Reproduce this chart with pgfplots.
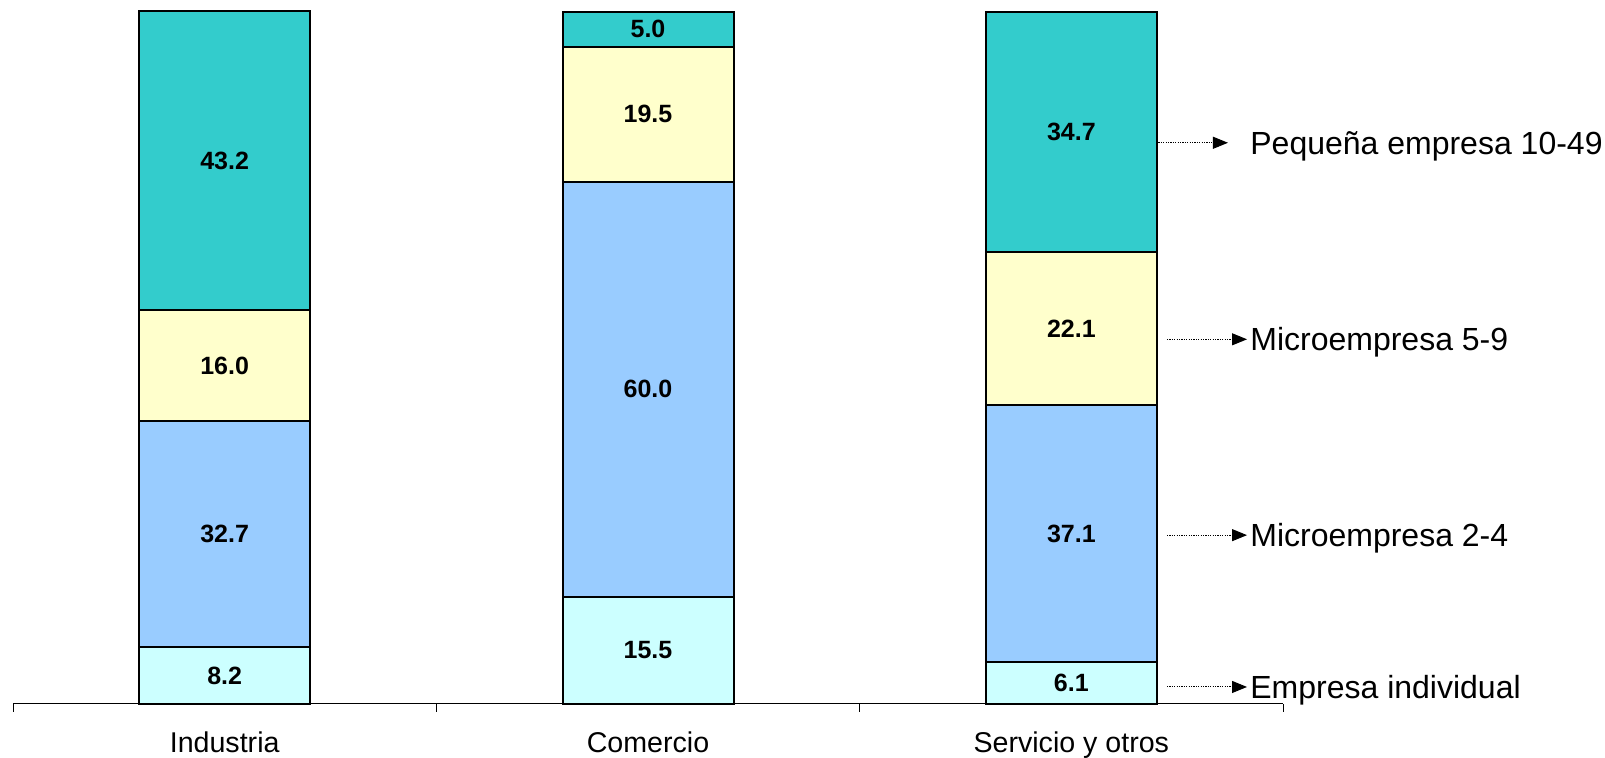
\documentclass[border=0pt]{standalone}
\usepackage{pgfplots}
\pgfplotsset{compat=1.18}
\usepackage{pgfplotstable}
\usepackage{fontspec}
\setmainfont{Liberation Sans}
\usetikzlibrary{arrows.meta}
\definecolor{cInd}{HTML}{CCFFFF}
\definecolor{cMa}{HTML}{99CCFF}
\definecolor{cMb}{HTML}{FFFFCC}
\definecolor{cPe}{HTML}{33CCCC}

\pgfplotstableread{
x v lbl
0.5 8.2 8.2
1.5 15.5 15.5
2.5 6.1 6.1
}\dataInd
\pgfplotstableread{
x v lbl
0.5 32.7 32.7
1.5 60.0 60.0
2.5 37.1 37.1
}\dataMa
\pgfplotstableread{
x v lbl
0.5 16.0 16.0
1.5 19.5 19.5
2.5 22.1 22.1
}\dataMb
\pgfplotstableread{
x v lbl
0.5 43.2 43.2
1.5 5.0 5.0
2.5 34.7 34.7
}\dataPe

\pgfplotsset{segstyle/.style={draw=black, line width=1pt,
  nodes near coords,
  point meta=explicit symbolic,
  every node near coord/.style={anchor=center, font=\bfseries\fontsize{12.5}{15}\selectfont, text=black}}}

\begin{document}
\begin{tikzpicture}
\useasboundingbox (-6.5pt,-27pt) rectangle (796pt,352pt);
\begin{axis}[
  at={(0,0)}, anchor=south west,
  scale only axis, width=635pt, height=346pt,
  xmin=0, xmax=3, ymin=0, ymax=100,
  clip=false,
  axis x line*=bottom, axis y line=none,
  axis line style={black, line width=0.5pt},
  xtick={0.5,1.5,2.5},
  xticklabels={Industria,Comercio,Servicio y otros},
  major tick length=0pt,
  minor xtick={0,1,2,3},
  minor tick length=4pt,
  tick align=outside,
  minor tick style={black, line width=0.5pt},
  xticklabel style={anchor=base, yshift=-24.5pt, font=\fontsize{14.3}{17}\selectfont},
  ybar stacked, bar width=85.5pt,
]
\addplot[fill=cInd, segstyle] table[x=x, y=v, meta=lbl] {\dataInd};
\addplot[fill=cMa, segstyle] table[x=x, y=v, meta=lbl] {\dataMa};
\addplot[fill=cMb, segstyle] table[x=x, y=v, meta=lbl] {\dataMb};
\addplot[fill=cPe, segstyle] table[x=x, y=v, meta=lbl] {\dataPe};

\draw[line width=0.5pt, dash pattern=on 0.6pt off 0.6pt, -{Triangle[length=7.5pt,width=6pt]}] (axis cs:2.700,81.1) -- (axis cs:2.870,81.1);
\node[anchor=base west, inner sep=0pt, yshift=-5.7pt, font=\fontsize{16}{19}\selectfont] at (axis cs:2.922,81.1) {Pequeña empresa 10-49};
\draw[line width=0.5pt, dash pattern=on 0.6pt off 0.6pt, -{Triangle[length=7.5pt,width=6pt]}] (axis cs:2.726,52.7) -- (axis cs:2.915,52.7);
\node[anchor=base west, inner sep=0pt, yshift=-5.7pt, font=\fontsize{16}{19}\selectfont] at (axis cs:2.922,52.7) {Microempresa 5-9};
\draw[line width=0.5pt, dash pattern=on 0.6pt off 0.6pt, -{Triangle[length=7.5pt,width=6pt]}] (axis cs:2.726,24.4) -- (axis cs:2.915,24.4);
\node[anchor=base west, inner sep=0pt, yshift=-5.7pt, font=\fontsize{16}{19}\selectfont] at (axis cs:2.922,24.4) {Microempresa 2-4};
\draw[line width=0.5pt, dash pattern=on 0.6pt off 0.6pt, -{Triangle[length=7.5pt,width=6pt]}] (axis cs:2.726,2.46) -- (axis cs:2.915,2.46);
\node[anchor=base west, inner sep=0pt, yshift=-5.7pt, font=\fontsize{16}{19}\selectfont] at (axis cs:2.922,2.46) {Empresa individual};
\end{axis}
\end{tikzpicture}
\end{document}
